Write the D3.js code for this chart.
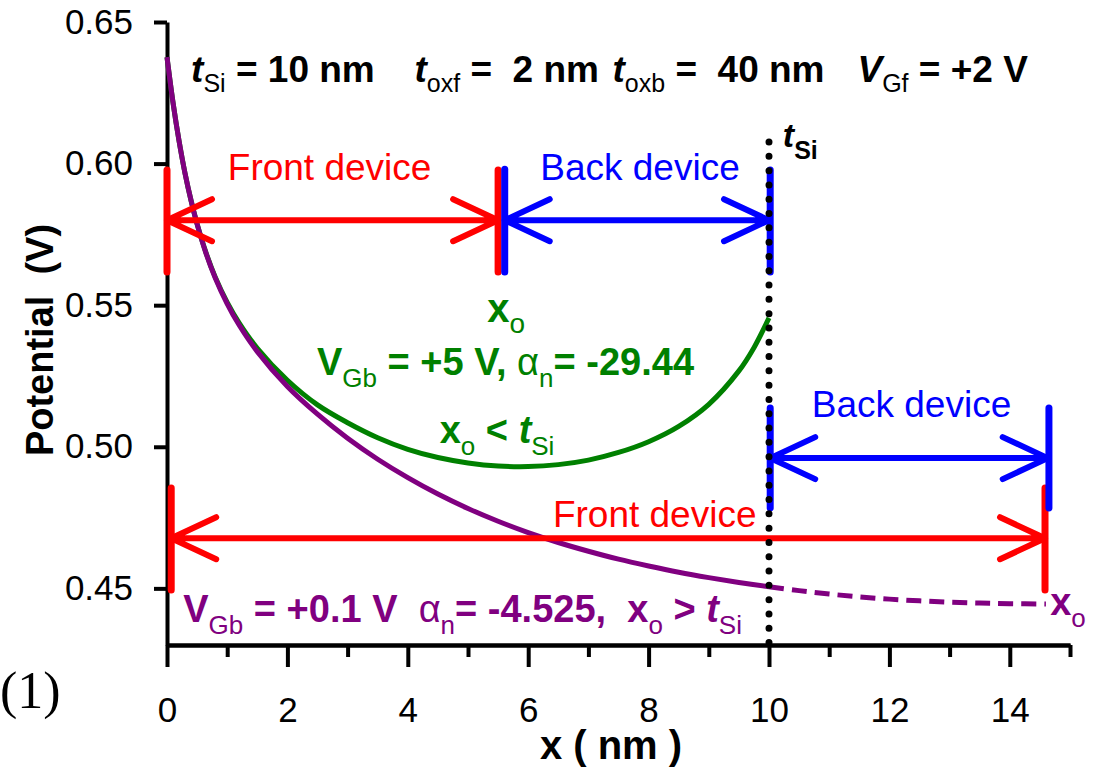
<!DOCTYPE html>
<html><head><meta charset="utf-8">
<script src="https://cdn.jsdelivr.net/npm/d3@7"></script>
<style>
body{margin:0;background:#fff}
svg{display:block}
text{white-space:pre}
</style>
</head><body>
<svg id="c" width="1103" height="768"></svg>
<script>
// ---------- data ----------
const xTicksMajor = [0, 2, 4, 6, 8, 10, 12, 14];
const xTicksMinor = [1, 3, 5, 7, 9, 11, 13, 15];
const yTicks = [0.45, 0.50, 0.55, 0.60, 0.65];

// V_Gb = +0.1 V (purple), inside silicon film (solid)
const xPurple = [0,0.1,0.2,0.3,0.4,0.5,0.65,0.8,1.0,1.2,1.5,2.0,2.5,3.0,3.5,4.0,4.5,5.0,5.5,6.0,6.5,7.0,7.5,8.0,8.5,9.0,9.5,10];
const vPurple = [0.6376,0.6215,0.6080,0.5965,0.5869,0.5786,0.5682,0.5597,0.5505,0.5429,0.5336,0.5213,0.5115,0.5030,0.4956,0.4891,0.4833,0.4782,0.4737,0.4697,0.4662,0.4631,0.4603,0.4579,0.4557,0.4538,0.4521,0.4506];
// V_Gb = +0.1 V, extension beyond t_Si (dashed)
const xPurpleExt = [10,10.5,11,11.5,12,12.5,13,13.5,14,14.6];
const vPurpleExt = [0.4506,0.4492,0.4480,0.4470,0.4462,0.4456,0.4451,0.4448,0.4446,0.4445];
// V_Gb = +5 V (green)
const xGreen = [0,0.1,0.2,0.3,0.4,0.5,0.65,0.8,1.0,1.2,1.5,2.0,2.5,3.0,3.5,4.0,4.5,5.0,5.5,6.0,6.5,7.0,7.5,8.0,8.5,9.0,9.5,9.75,10];
const vGreen = [0.6376,0.6215,0.6080,0.5965,0.5869,0.5787,0.5684,0.5600,0.5510,0.5437,0.5348,0.5235,0.5148,0.5085,0.5032,0.4991,0.4962,0.4943,0.4932,0.4930,0.4937,0.4953,0.4980,0.5018,0.5072,0.5150,0.5268,0.5350,0.5455];

const tSi = 10;
const xoGreen = 5.5;   // front/back split for V_Gb=+5 V
const xoPurple = 14.6; // x_o for V_Gb=+0.1 V

// ---------- setup ----------
const SANS = "Liberation Sans, Arial, sans-serif";
const svg = d3.select("#c").style("font-family", SANS);
const x = d3.scaleLinear().domain([0, 15]).range([167, 1070]);
const y = d3.scaleLinear().domain([0.43, 0.65]).range([645, 22]);
const RED = "#ff0000", BLUE = "#0000ff", GREEN = "#008000", PURPLE = "#800080";

// ---------- axes ----------
const gxMinor = svg.append("g").attr("transform", `translate(0,${y(0.43)})`)
  .call(d3.axisBottom(x).tickValues(xTicksMinor).tickSize(12).tickSizeOuter(0).tickFormat(""));
const gx = svg.append("g").attr("transform", `translate(0,${y(0.43)})`)
  .call(d3.axisBottom(x).tickValues(xTicksMajor).tickSize(22).tickSizeOuter(0).tickPadding(30).tickFormat(d3.format("d")));
const gy = svg.append("g").attr("transform", `translate(${x(0)},0)`)
  .call(d3.axisLeft(y).tickValues(yTicks).tickSize(13).tickSizeOuter(0).tickPadding(21).tickFormat(d3.format(".2f")));
[gx, gxMinor, gy].forEach(g => {
  g.attr("font-family", null).attr("font-size", null);
  g.selectAll("path,line").attr("stroke", "#000").attr("stroke-width", 4);
  g.selectAll("text").attr("fill", "#000").style("font-size", "35px").style("font-family", SANS);
});

// ---------- curves ----------
const line = d3.line().x(d => x(d[0])).y(d => y(d[1])).curve(d3.curveCatmullRom.alpha(0.5));
svg.append("path").datum(d3.zip(xGreen, vGreen)).attr("d", line)
  .attr("fill", "none").attr("stroke", GREEN).attr("stroke-width", 5);
svg.append("path").datum(d3.zip(xPurple, vPurple)).attr("d", line)
  .attr("fill", "none").attr("stroke", PURPLE).attr("stroke-width", 5);
svg.append("path").datum(d3.zip(xPurpleExt, vPurpleExt)).attr("d", line)
  .attr("fill", "none").attr("stroke", PURPLE).attr("stroke-width", 5)
  .attr("stroke-dasharray", "15 8");

// ---------- arrows ----------
function bar(xv, v0, v1, color) {
  svg.append("line").attr("x1", x(xv)).attr("x2", x(xv)).attr("y1", y(v0)).attr("y2", y(v1))
    .attr("stroke", color).attr("stroke-width", 7).attr("stroke-linecap", "round");
}
function arrow(x0, x1, v, color) {
  const X0 = x(x0), X1 = x(x1), Y = y(v), dx = 45, dy = 21;
  svg.append("path")
    .attr("d", `M${X0},${Y}H${X1} M${X0 + dx},${Y - dy}L${X0},${Y}L${X0 + dx},${Y + dy} M${X1 - dx},${Y - dy}L${X1},${Y}L${X1 - dx},${Y + dy}`)
    .attr("fill", "none").attr("stroke", color).attr("stroke-width", 6)
    .attr("stroke-linecap", "round").attr("stroke-linejoin", "round");
}
// upper (V_Gb = +5 V)
arrow(0, xoGreen, 0.580, RED);
bar(0, 0.5617, 0.5977, RED);
bar(xoGreen, 0.5617, 0.5977, RED);
arrow(5.61, tSi, 0.580, BLUE);
bar(5.61, 0.5617, 0.5980, BLUE);
bar(tSi + 0.02, 0.5617, 0.5977, BLUE);
// lower (V_Gb = +0.1 V)
arrow(0.07, 14.585, 0.4677, RED);
bar(0.07, 0.4494, 0.4854, RED);
bar(14.585, 0.4494, 0.4854, RED);
arrow(tSi + 0.02, 14.63, 0.4960, BLUE);
bar(tSi + 0.02, 0.4784, 0.5137, BLUE);
bar(14.65, 0.4784, 0.5137, BLUE);

// dotted t_Si line
svg.append("line").attr("x1", x(tSi)).attr("x2", x(tSi)).attr("y1", y(0.6076)).attr("y2", y(0.43))
  .attr("stroke", "#000").attr("stroke-width", 7).attr("stroke-linecap", "round")
  .attr("stroke-dasharray", "0 14.3");

// ---------- texts ----------
function rich(xv, vv, segs, o) {
  const t = svg.append("text").attr("x", x(xv)).attr("y", y(vv)).attr("fill", o.color).attr("font-size", o.size);
  let shifted = false;
  segs.forEach(s => {
    const sp = t.append("tspan").text(s.t);
    if (s.sub && !shifted) { sp.attr("dy", o.shift); shifted = true; }
    else if (!s.sub && shifted) { sp.attr("dy", -o.shift); shifted = false; }
    sp.attr("font-size", s.sub ? o.sub : o.size)
      .attr("font-weight", s.b ? "bold" : "normal")
      .attr("font-style", s.i ? "italic" : "normal");
  });
  return t;
}
const T = {color: "#000", size: 37, sub: 25, shift: 10};
rich(0.40, 0.6287, [{t:"t",b:1,i:1},{t:"Si",sub:1},{t:" = 10 nm",b:1}], T);
rich(4.11, 0.6287, [{t:"t",b:1,i:1},{t:"oxf",sub:1},{t:" =  2 nm",b:1}], T);
rich(7.40, 0.6287, [{t:"t",b:1,i:1},{t:"oxb",sub:1},{t:" =  40 nm",b:1}], T);
rich(11.47, 0.6287, [{t:"V",b:1,i:1},{t:"Gf",sub:1},{t:" = +2 V",b:1}], T);
rich(10.23, 0.6058, [{t:"t",b:1,i:1},{t:"Si",sub:1,b:1}], {color:"#000", size:34, sub:25, shift:12});

function plain(xv, vv, str, color) {
  svg.append("text").attr("x", x(xv)).attr("y", y(vv)).attr("fill", color).attr("font-size", 37).text(str);
}
plain(1.01, 0.5941, "Front device", RED);
plain(6.20, 0.5941, "Back device", BLUE);
plain(10.71, 0.5105, "Back device", BLUE);
plain(6.41, 0.4717, "Front device", RED);

const G = {color: GREEN, size: 38, sub: 26, shift: 12};
rich(5.32, 0.5440, [{t:"x",b:1},{t:"o",sub:1}], {color: GREEN, size: 40, sub: 28, shift: 11});
rich(2.49, 0.5253, [{t:"V",b:1},{t:"Gb",sub:1},{t:" = +5 V, ",b:1},{t:"\u03B1"},{t:"n",sub:1},{t:"= -29.44",b:1}], G);
rich(4.53, 0.5013, [{t:"x",b:1},{t:"o",sub:1},{t:" < ",b:1},{t:"t",b:1,i:1},{t:"Si",sub:1}], G);

const Pp = {color: PURPLE, size: 38, sub: 26, shift: 12};
rich(0.27, 0.4381, [{t:"V",b:1},{t:"Gb",sub:1},{t:" = +0.1 V  ",b:1},{t:"\u03B1"},{t:"n",sub:1},{t:"= -4.525,  ",b:1},{t:"x",b:1},{t:"o",sub:1},{t:" > ",b:1},{t:"t",b:1,i:1},{t:"Si",sub:1}], Pp);
rich(14.67, 0.4406, [{t:"x",b:1},{t:"o",sub:1}], Pp);

// axis titles
svg.append("text").attr("x", 611).attr("y", 759).attr("text-anchor", "middle")
  .attr("font-size", 40).attr("font-weight", "bold").attr("fill", "#000").text("x ( nm )");
svg.append("text").attr("transform", "translate(53,340) rotate(-90)").attr("text-anchor", "middle")
  .attr("font-size", 38).attr("font-weight", "bold").attr("fill", "#000").text("Potential  (V)");
// panel label
svg.append("text").attr("x", 0).attr("y", 708).style("font-size", "52px")
  .style("font-family", "Liberation Serif, Times New Roman, serif").attr("fill", "#000").text("(1)");
</script>
</body></html>
